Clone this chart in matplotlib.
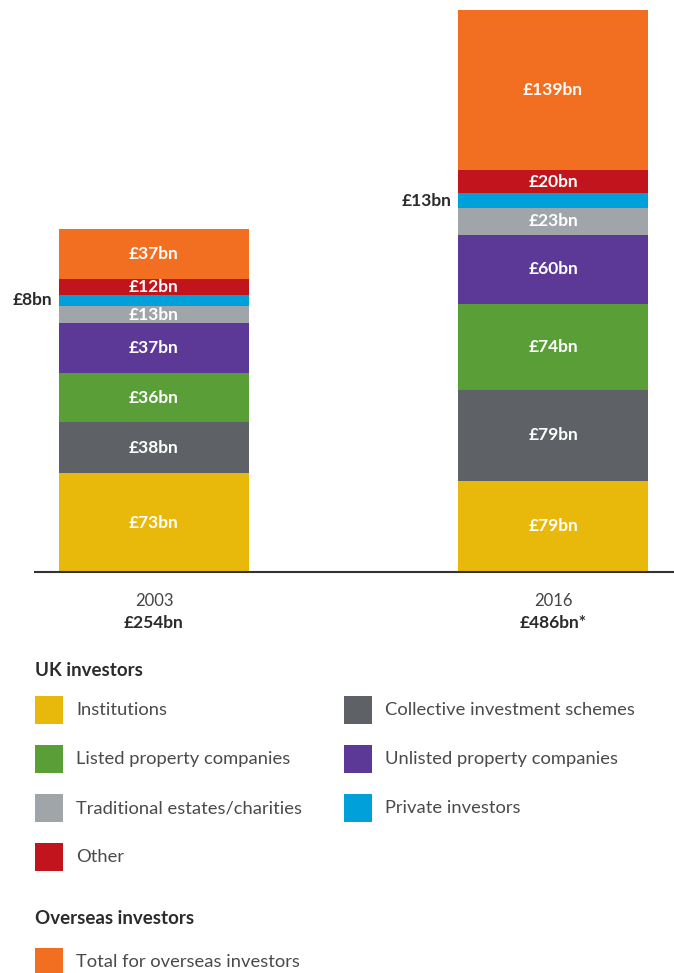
import matplotlib
matplotlib.use("Agg")
import matplotlib.pyplot as plt
from matplotlib.patches import Rectangle
import numpy as np

plt.rcParams['font.family'] = ['Lato', 'DejaVu Sans']

years = ["2003", "2016"]
totals = ["£254bn", "£486bn*"]
categories = ["Institutions", "Collective investment schemes", "Listed property companies",
              "Unlisted property companies", "Traditional estates/charities",
              "Private investors", "Other", "Total for overseas investors"]
values_2003 = [73, 38, 36, 37, 13, 8, 12, 37]
values_2016 = [79, 79, 74, 60, 23, 13, 20, 139]
colors = ["#E8B90A", "#5E6266", "#5A9E37", "#5C3996", "#A0A5AA", "#00A0DA", "#C1141C", "#F26F21"]
# the reference draws the 2003 bar at a larger vertical scale than 2016
display_scale = [1.17, 1.0]

W, H = 674, 973
fig = plt.figure(figsize=(W / 100, H / 100), dpi=100)

# main axes: baseline at y=572px, spanning x 35..674
ax = fig.add_axes([35 / W, (H - 572) / H, (W - 35) / W, 572 / H])
ax.set_ylim(0, 572 / 1.155)
ax.set_xlim(-0.298, 1.303)
bar_w = 0.476

series = [values_2003, values_2016]
for xi, (vals, sc) in enumerate(zip(series, display_scale)):
    bottom = 0
    for ci, v in enumerate(vals):
        h = v * sc
        ax.bar(xi, h, bottom=bottom, width=bar_w, color=colors[ci], linewidth=0)
        label = f"£{v}bn"
        if categories[ci] == "Private investors":
            ax.text(xi - bar_w / 2 - 0.017, bottom + h / 2, label, ha='right', va='center',
                    color='#2b2b2b', fontsize=12.5, fontweight='bold')
        else:
            ax.text(xi, bottom + h / 2, label, ha='center', va='center',
                    color='white', fontsize=12.5, fontweight='bold')
        bottom += h

for s in ['top', 'right', 'left']:
    ax.spines[s].set_visible(False)
ax.spines['bottom'].set_color('#333333')
ax.spines['bottom'].set_linewidth(1.5)
ax.set_yticks([])
ax.set_xticks([])

for xi, (y, t) in enumerate(zip(years, totals)):
    ax.text(xi, -25, y, ha='center', va='center', color='#444444', fontsize=12,
            transform=ax.transData, clip_on=False)
    ax.text(xi, -44.5, t, ha='center', va='center', color='#2b2b2b', fontsize=12.5,
            fontweight='bold', transform=ax.transData, clip_on=False)

# legend drawn in an overlay axes in pixel coordinates
lg = fig.add_axes([0, 0, 1, 1])
lg.set_xlim(0, W)
lg.set_ylim(H, 0)
lg.axis('off')

lg.text(35, 670, "UK investors", ha='left', va='center', fontsize=13.5, fontweight='bold', color='#2b2b2b')
lg.text(35, 919, "Overseas investors", ha='left', va='center', fontsize=13.5, fontweight='bold', color='#2b2b2b')

legend_layout = [  # (category index, column x, row y)
    (0, 35, 710), (1, 344, 710),
    (2, 35, 759), (3, 344, 759),
    (4, 35, 808), (5, 344, 808),
    (6, 35, 857),
    (7, 35, 962),
]
for ci, x, y in legend_layout:
    lg.add_patch(Rectangle((x, y - 14), 28, 28, color=colors[ci], linewidth=0))
    lg.text(x + 41, y, categories[ci], ha='left', va='center', fontsize=13.2,
            color='#4a4a4a')

fig.savefig("out.png", dpi=100)
